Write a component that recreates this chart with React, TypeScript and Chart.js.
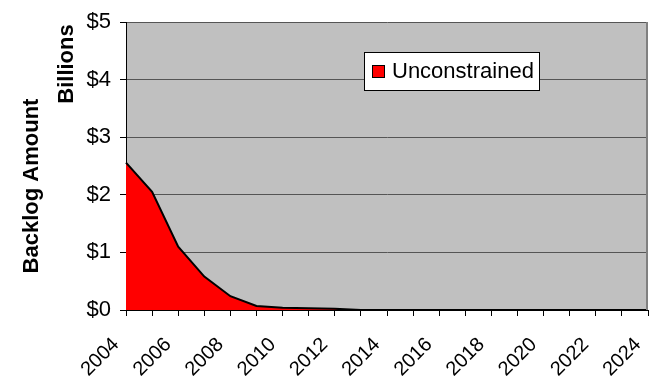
import React, { useEffect, useRef } from "react";
import { Chart, registerables } from "chart.js";

Chart.register(...registerables);

const years: string[] = [
  "2004", "2005", "2006", "2007", "2008", "2009", "2010", "2011", "2012", "2013", "2014",
  "2015", "2016", "2017", "2018", "2019", "2020", "2021", "2022", "2023", "2024",
];
const unconstrained: number[] = [
  2.56, 2.05, 1.1, 0.58, 0.24, 0.07, 0.04, 0.03, 0.02, 0, 0,
  0, 0, 0, 0, 0, 0, 0, 0, 0, 0,
];
const yTickValues: number[] = [0, 1, 2, 3, 4, 5];
const seriesName = "Unconstrained";
const yTitle = "Backlog Amount";
const unitsLabel = "Billions";

const FONT = "'Liberation Sans', Arial, sans-serif";

const decorPlugin = {
  id: "decor",
  beforeDraw(chart: any) {
    const { ctx, chartArea } = chart;
    ctx.save();
    ctx.fillStyle = "#c0c0c0";
    ctx.fillRect(chartArea.left, chartArea.top, chartArea.right - chartArea.left, chartArea.bottom - chartArea.top);
    ctx.restore();
  },
  afterDraw(chart: any) {
    const { ctx, chartArea } = chart;
    ctx.save();
    // right border of plot
    ctx.strokeStyle = "#808080";
    ctx.lineWidth = 2;
    ctx.beginPath();
    ctx.moveTo(chartArea.right - 1, chartArea.top);
    ctx.lineTo(chartArea.right - 1, chartArea.bottom);
    ctx.stroke();

    // axis titles
    ctx.fillStyle = "#000";
    ctx.font = `bold 22px ${FONT}`;
    ctx.textAlign = "center";
    ctx.textBaseline = "middle";
    ctx.save();
    ctx.translate(32, 186);
    ctx.rotate(-Math.PI / 2);
    ctx.fillText(yTitle, 0, 0);
    ctx.restore();
    ctx.save();
    ctx.translate(67, 64);
    ctx.rotate(-Math.PI / 2);
    ctx.fillText(unitsLabel, 0, 0);
    ctx.restore();

    // legend
    const bx = 364, by = 52, bw = 175, bh = 38;
    ctx.fillStyle = "#fff";
    ctx.fillRect(bx, by, bw, bh);
    ctx.strokeStyle = "#000";
    ctx.lineWidth = 1;
    ctx.strokeRect(bx + 0.5, by + 0.5, bw, bh);
    ctx.fillStyle = "#ff0000";
    ctx.fillRect(372, 65, 12, 12);
    ctx.strokeRect(372.5, 65.5, 12, 12);
    ctx.fillStyle = "#000";
    ctx.font = `22px ${FONT}`;
    ctx.textAlign = "left";
    ctx.textBaseline = "middle";
    ctx.fillText(seriesName, 392, 72);
    ctx.restore();
  },
};

export default function App() {
  const ref = useRef<HTMLCanvasElement | null>(null);
  useEffect(() => {
    if (!ref.current) return;
    const chart = new Chart(ref.current, {
      type: "line",
      data: {
        labels: years,
        datasets: [
          {
            label: seriesName,
            data: unconstrained,
            borderColor: "#000",
            borderWidth: 2,
            backgroundColor: "#ff0000",
            fill: "origin",
            pointRadius: 0,
            tension: 0,
          },
        ],
      },
      options: {
        responsive: false,
        animation: false,
        devicePixelRatio: 1,
        layout: { padding: { top: 22, right: 6, left: 0, bottom: 0 } },
        plugins: { legend: { display: false }, tooltip: { enabled: false } },
        scales: {
          x: {
            type: "category",
            offset: false,
            border: { color: "#000", width: 1 },
            grid: { drawOnChartArea: false, tickLength: 6, color: "#000" },
            ticks: {
              autoSkip: false,
              minRotation: 45,
              maxRotation: 45,
              padding: 17,
              labelOffset: -10,
              color: "#000",
              font: { family: FONT, size: 20 },
              callback: (_v: any, i: number) => (i % 2 === 0 ? years[i] : ""),
            },
            afterFit: (s: any) => {
              s.height = 71;
              s.paddingLeft = 0;
              s.paddingRight = 0;
            },
          },
          y: {
            min: 0,
            max: 5,
            border: { color: "#000", width: 1 },
            grid: { color: "#555", tickColor: "#000", tickLength: 6 },
            afterBuildTicks: (s: any) => {
              s.ticks = yTickValues.map((v) => ({ value: v }));
            },
            ticks: {
              color: "#000",
              padding: 9,
              font: { family: FONT, size: 22 },
              callback: (v: any) => "$" + v,
            },
            afterFit: (s: any) => {
              s.width = 126;
              s.paddingTop = 0;
              s.paddingBottom = 0;
            },
          },
        },
      },
      plugins: [decorPlugin],
    });
    return () => chart.destroy();
  }, []);
  return (
    <div style={{ position: "absolute", left: 0, top: 0, width: 654, height: 381, background: "#fff" }}>
      <canvas ref={ref} width={654} height={381} style={{ display: "block" }} />
    </div>
  );
}
